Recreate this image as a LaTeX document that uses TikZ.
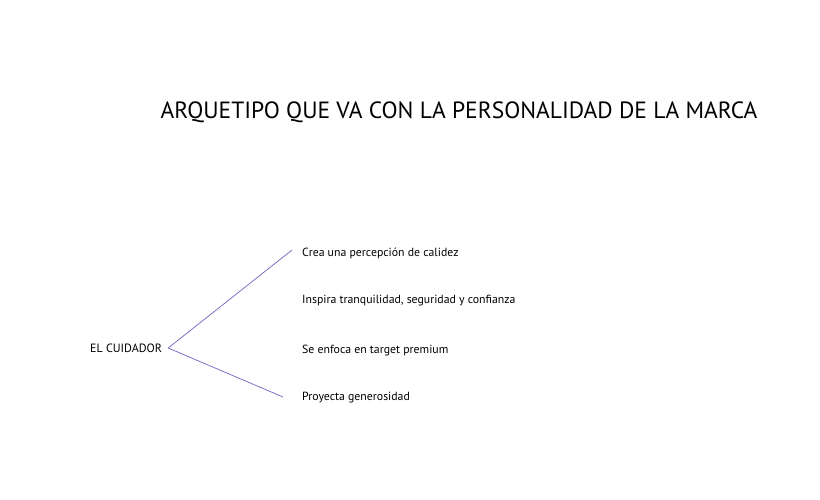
\documentclass[tikz,border=0pt]{standalone}
\usepackage{fontspec}
\setmainfont{PT Sans}
\usetikzlibrary{positioning}
\definecolor{rama}{RGB}{112,98,192}
\tikzset{
  titulo/.style = { font=\fontsize{23.5}{27}\selectfont, inner sep=0pt },
  raiz/.style   = { font=\fontsize{12}{14}\selectfont, inner sep=0pt, anchor=west },
  rasgo/.style  = { font=\fontsize{11.8}{14}\selectfont, inner sep=0pt, anchor=west },
  branch/.style = { rama, line width=0.7pt }
}
\begin{document}
\begin{tikzpicture}[x=1pt,y=-1pt]
  \useasboundingbox (0,0) rectangle (820,499);

  % Draw title
  \node[titulo] (title) at (459,112) {ARQUETIPO QUE VA CON LA PERSONALIDAD DE LA MARCA};

  % Draw root and traits
  \node[raiz] (cuidador) at (90,348) {EL CUIDADOR};
  \node[rasgo] (calidez)   at (302,253) {Crea una percepción de calidez};
  \node[rasgo] (confianza) at (302,301) {Inspira tranquilidad, seguridad y confianza};
  \node[rasgo] (premium)   at (302,351) {Se enfoca en target premium};
  \node[rasgo] (generoso)  at (302,398) {Proyecta generosidad};

  % Draw branches
  \coordinate (vertice) at ([xshift=6pt]cuidador.east);
  \draw[branch] (vertice) -- ([xshift=-10pt,yshift=3pt]calidez.west);
  \draw[branch] (vertice) -- ([xshift=-19pt,yshift=1pt]generoso.west);
\end{tikzpicture}
\end{document}
